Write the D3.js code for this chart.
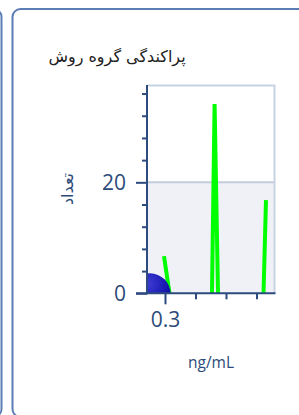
<!DOCTYPE html>
<html>
<head>
<meta charset="utf-8">
<script src="https://cdn.jsdelivr.net/npm/d3@7"></script>
<style>
  html, body { margin: 0; padding: 0; background: #fff; }
  svg { display: block; }
</style>
</head>
<body>
<div id="chart"></div>
<script>
// data
var titleText = "پراکندگی گروه روش";
var yLabel = "تعداد";
var xLabel = "ng/mL";

var yMajorTicks = [0, 20];
var yMinorTicks = [4, 8, 12, 16, 24, 28, 32, 36];
var xMajorTicks = [0.3];
var xMinorTicks = [0.4, 0.5, 0.6];

// green series, null = gap
var greenX = [0.2967, 0.3148, null, 0.454, 0.4626, 0.4738, null, 0.623, 0.6311];
var greenY = [6.7, 0, null, 0, 34.1, 0, null, 0, 16.8];

// blue bubble
var bubbleX = [0.251];
var bubbleY = [-0.1];

var svgWidth = 299;
var svgHeight = 415;

var plot = { left: 147, top: 85.5, right: 274.5, bottom: 293.3 };

var axisColor = "#2d4b7e";
var textColor = "#2d4b78";

var svg = d3.select("#chart")
  .append("svg")
  .attr("width", svgWidth)
  .attr("height", svgHeight);

// panels
svg.append("rect")
  .attr("x", -300).attr("y", 9)
  .attr("width", 301.5).attr("height", 408)
  .attr("rx", 8)
  .attr("fill", "none")
  .attr("stroke", "#5b7db5")
  .attr("stroke-width", 2);

svg.append("rect")
  .attr("x", 12.5).attr("y", 9)
  .attr("width", 320).attr("height", 408)
  .attr("rx", 8)
  .attr("fill", "#fff")
  .attr("stroke", "#5b7db5")
  .attr("stroke-width", 2);

// title
svg.append("text")
  .attr("x", 117)
  .attr("y", 62)
  .attr("text-anchor", "middle")
  .attr("direction", "rtl")
  .style("font-family", "DejaVu Sans")
  .style("font-size", "16px")
  .style("fill", "#222")
  .text(titleText);

var x = d3.scaleLinear()
  .domain([0.241, 0.659])
  .range([plot.left, plot.right]);

var y = d3.scaleLinear()
  .domain([0, 37.45])
  .range([plot.bottom, plot.top]);

var defs = svg.append("defs");
defs.append("clipPath").attr("id", "clip")
  .append("rect")
  .attr("x", plot.left).attr("y", plot.top)
  .attr("width", plot.right - plot.left)
  .attr("height", plot.bottom - plot.top);

var grad = defs.append("radialGradient")
  .attr("id", "bubbleGrad")
  .attr("cx", "45%").attr("cy", "25%").attr("r", "75%");
grad.append("stop").attr("offset", "0%").attr("stop-color", "#3d3dd4");
grad.append("stop").attr("offset", "100%").attr("stop-color", "#00009a");

// bands
svg.append("rect")
  .attr("x", plot.left).attr("y", y(20))
  .attr("width", plot.right - plot.left)
  .attr("height", y(0) - y(20))
  .attr("fill", "#eff1f6");

// grid line at 20
svg.append("line")
  .attr("x1", plot.left).attr("x2", plot.right)
  .attr("y1", y(20)).attr("y2", y(20))
  .attr("stroke", "#c3ccda")
  .attr("stroke-width", 2);

// plot border (top + right)
svg.append("path")
  .attr("d", "M" + plot.left + "," + plot.top + "H" + plot.right + "V" + plot.bottom)
  .attr("fill", "none")
  .attr("stroke", "#c8d3e2")
  .attr("stroke-width", 2);

var plotArea = svg.append("g").attr("clip-path", "url(#clip)");

var greenData = greenX.map(function(d, i) { return { x: d, y: greenY[i] }; });

var drawLine = d3.line()
  .defined(function(d) { return d.x !== null; })
  .x(function(d) { return x(d.x); })
  .y(function(d) { return y(d.y); });

plotArea.append("path")
  .datum(greenData)
  .attr("d", drawLine)
  .attr("fill", "none")
  .attr("stroke", "#00ff00")
  .attr("stroke-width", 4)
  .attr("stroke-linejoin", "miter");

plotArea.selectAll("circle")
  .data(bubbleX)
  .enter()
  .append("circle")
  .attr("cx", function(d) { return x(d); })
  .attr("cy", function(d, i) { return y(bubbleY[i]); })
  .attr("r", 20.5)
  .attr("fill", "url(#bubbleGrad)");

// axes
var leftMinor = d3.axisLeft(y).tickValues(yMinorTicks).tickSize(5).tickFormat("");
var leftMajor = d3.axisLeft(y).tickValues(yMajorTicks).tickSize(11).tickPadding(10).tickFormat(d3.format("d"));
var bottomMinor = d3.axisBottom(x).tickValues(xMinorTicks).tickSize(6).tickFormat("");
var bottomMajor = d3.axisBottom(x).tickValues(xMajorTicks).tickSize(11).tickPadding(8).tickFormat(d3.format(".1f"));

function styleAxis(g) {
  g.select(".domain").remove();
  g.selectAll("line").attr("stroke", axisColor).attr("stroke-width", 2);
  g.selectAll("text")
    .style("font-family", "Open Sans")
    .style("font-size", "21px")
    .style("fill", textColor);
}

svg.append("g").attr("transform", "translate(" + plot.left + ",0)").call(leftMinor).call(styleAxis);
svg.append("g").attr("transform", "translate(" + plot.left + ",0)").call(leftMajor).call(styleAxis);
svg.append("g").attr("transform", "translate(0," + plot.bottom + ")").call(bottomMinor).call(styleAxis);
svg.append("g").attr("transform", "translate(0," + plot.bottom + ")").call(bottomMajor).call(styleAxis);

// axis lines
svg.append("line")
  .attr("x1", plot.left).attr("x2", plot.left)
  .attr("y1", plot.top - 0.5).attr("y2", plot.bottom + 1)
  .attr("stroke", axisColor).attr("stroke-width", 2);
svg.append("line")
  .attr("x1", plot.left - 11).attr("x2", plot.right + 1)
  .attr("y1", plot.bottom).attr("y2", plot.bottom)
  .attr("stroke", axisColor).attr("stroke-width", 2);

// axis titles
svg.append("text")
  .attr("transform", "translate(72.5," + 189 + ") rotate(-90)")
  .attr("text-anchor", "middle")
  .attr("direction", "rtl")
  .style("font-family", "DejaVu Sans")
  .style("font-size", "16px")
  .style("fill", textColor)
  .text(yLabel);

svg.append("text")
  .attr("x", 211)
  .attr("y", 368)
  .attr("text-anchor", "middle")
  .style("font-family", "Open Sans")
  .style("font-size", "15.5px")
  .style("fill", textColor)
  .text(xLabel);
</script>
</body>
</html>
